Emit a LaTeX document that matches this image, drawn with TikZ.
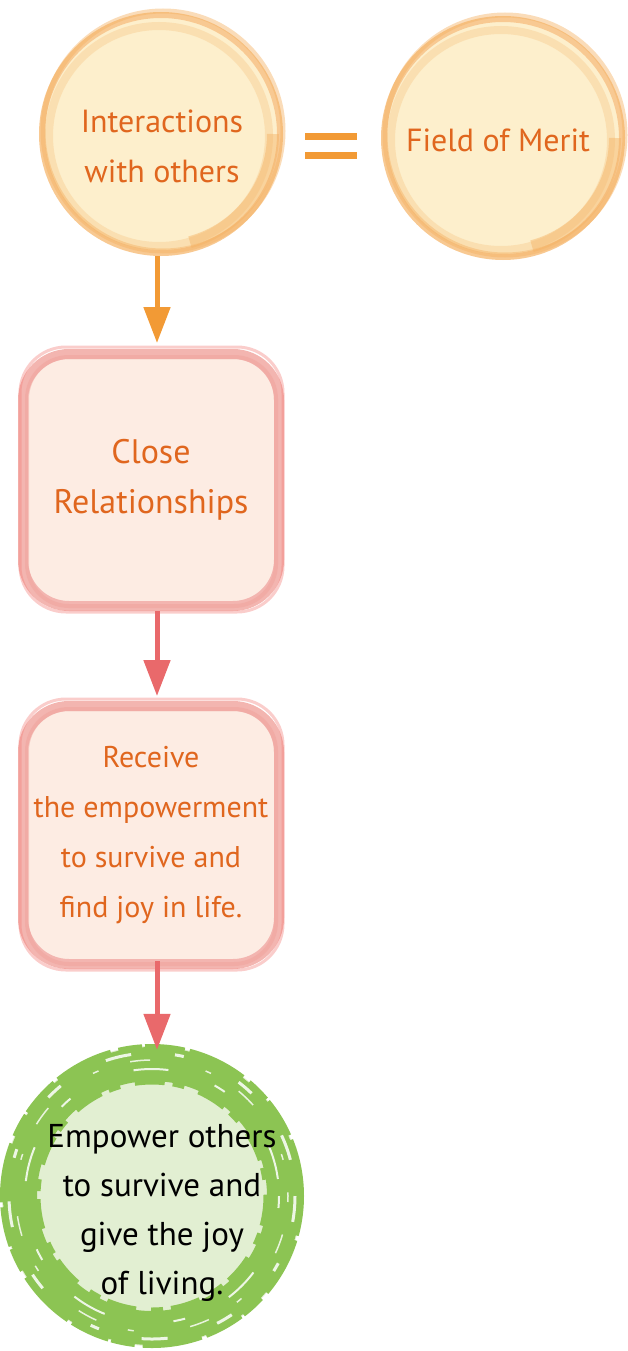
\documentclass[tikz,border=0pt]{standalone}
\usepackage{fontspec}
\setmainfont{PT Sans}
\usepackage{tikz}
\usetikzlibrary{arrows.meta,positioning}
\definecolor{sunfill}{HTML}{FDEFCC}
\definecolor{sunring}{HTML}{F5B263}
\definecolor{suntext}{HTML}{E0661E}
\definecolor{sunarrow}{HTML}{F29A35}
\definecolor{rosefill}{HTML}{FDECE3}
\definecolor{rosering}{HTML}{F0A39C}
\definecolor{rosearrow}{HTML}{E9696B}
\definecolor{leaffill}{HTML}{E2EFD2}
\definecolor{leafring}{HTML}{8CC453}

\tikzset{
  sunball/.style={circle,minimum size=238pt,fill=sunfill,draw=sunring!70,line width=6pt},
  suntxt/.style={text=suntext,align=center,font=\fontsize{32}{50}\selectfont},
  rosebox/.style={rectangle,rounded corners=46pt,minimum width=256pt,fill=rosefill,
    draw=rosering!80,line width=10pt,text=suntext,align=center},
  leafball/.style={circle,minimum size=300pt,fill=leaffill,inner sep=0pt},
  ecotxt/.style={align=center,text=black,font=\fontsize{33}{49}\selectfont},
  flow/.style={line width=5pt,-{Triangle[width=26pt,length=36pt]}}
}

\begin{document}
\begin{tikzpicture}[x=1pt,y=-1pt]
\useasboundingbox (0,0) rectangle (628,1351);
% top row
\node[sunball] (inter) at (161,134) {};
\node[sunball] (merit) at (503,138) {};
\draw[sunring,line width=5pt,opacity=.45] ([shift={(2,-3)}]inter.center) circle (120);
\draw[sunring,line width=8pt,opacity=.25] ([shift={(-2,2)}]inter.center) circle (110);
\draw[sunring,line width=12pt,opacity=.45] (inter.center) ++(0:112) arc (0:75:112);
\draw[sunring,line width=5pt,opacity=.45] ([shift={(2,-3)}]merit.center) circle (120);
\draw[sunring,line width=8pt,opacity=.25] ([shift={(-2,2)}]merit.center) circle (110);
\draw[sunring,line width=12pt,opacity=.45] (merit.center) ++(0:112) arc (0:75:112);
\node[suntxt] (intertxt) at (162,146) {Interactions\\with others};
\node[suntxt] (merittxt) at (498,140) {Field of Merit};
\fill[sunarrow] (305,133) rectangle (357,140);
\fill[sunarrow] (305,152) rectangle (357,159);
% boxes
\node[rosebox,minimum height=252pt,font=\fontsize{34}{50}\selectfont] (close) at (151,480)
  {Close\\Relationships};
\node[rosebox,minimum height=258pt,font=\fontsize{30}{50}\selectfont] (recv) at (151,835)
  {Receive\\the empowerment\\to survive and\\find joy in life.};
\draw[rosering,line width=4pt,opacity=.5,rounded corners=42pt]
  ([shift={(9,-5)}]close.south west) rectangle ([shift={(-8,8)}]close.north east);
\draw[rosering!80!red,line width=3pt,opacity=.4,rounded corners=46pt]
  ([shift={(2,1)}]close.south west) rectangle ([shift={(-1,-2)}]close.north east);
\draw[rosering,line width=4pt,opacity=.5,rounded corners=42pt]
  ([shift={(9,-5)}]recv.south west) rectangle ([shift={(-8,8)}]recv.north east);
\draw[rosering!80!red,line width=3pt,opacity=.4,rounded corners=46pt]
  ([shift={(2,1)}]recv.south west) rectangle ([shift={(-1,-2)}]recv.north east);
% green ring
\node[leafball] (eco) at (152,1196) {};
\draw[leafring,line width=34pt] (eco) circle (132);
\draw[leafring,line width=4pt,dash pattern=on 40pt off 5pt on 60pt off 8pt on 24pt off 3pt] (eco) circle (150);
\draw[leafring,line width=5pt,dash pattern=on 30pt off 8pt on 12pt off 15pt] (eco) circle (114);
\draw[white,line width=3pt,opacity=.85,dash pattern=on 26pt off 44pt on 9pt off 61pt on 17pt off 52pt] (eco) circle (143);
\draw[white,line width=2pt,opacity=.85,dash pattern=on 12pt off 70pt on 35pt off 49pt] (eco) circle (127);
\draw[white,line width=1.5pt,opacity=.8,dash pattern=on 6pt off 33pt on 20pt off 57pt] (eco) circle (136);
\node[ecotxt] (give) at (162,1213) {Empower others\\to survive and\\give the joy\\of living.};
% arrows
\draw[flow,sunarrow] ([xshift=-4pt]inter.south) -- ([xshift=6pt,yshift=6pt]close.north);
\draw[flow,rosearrow] ([xshift=6pt]close.south) -- ([xshift=6pt,yshift=5pt]recv.north);
\draw[flow,rosearrow] ([xshift=6pt,yshift=8pt]recv.south) -- ([xshift=5pt,yshift=-4pt]eco.north);
\end{tikzpicture}
\end{document}
